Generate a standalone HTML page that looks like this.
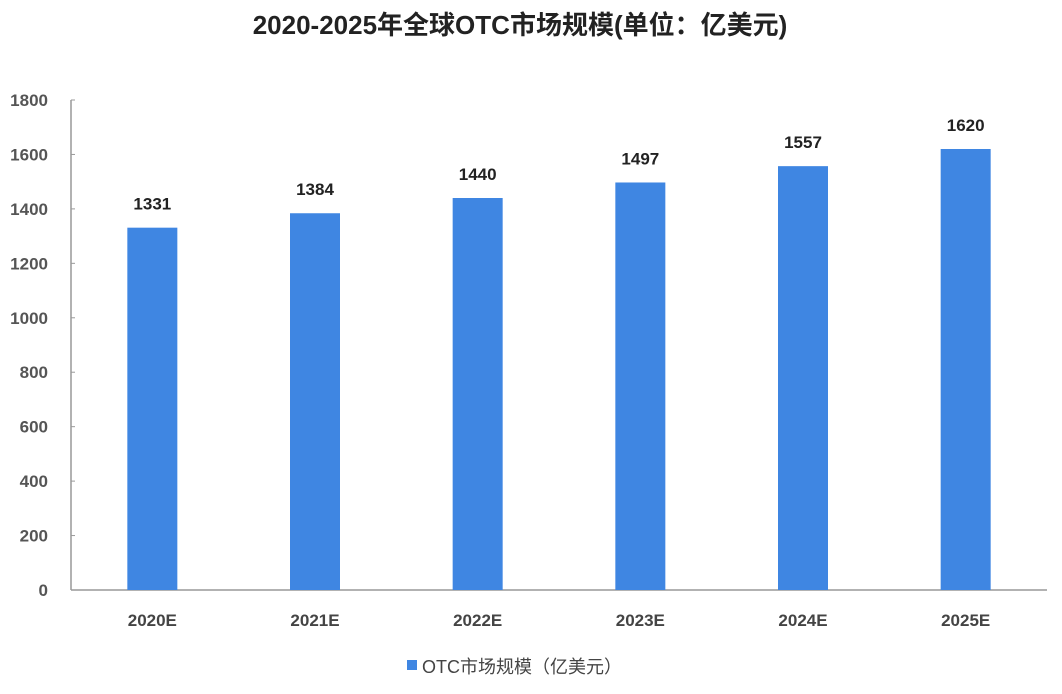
<!DOCTYPE html>
<html><head><meta charset="utf-8"><style>
body{margin:0;background:#fff;}
svg text{font-family:"Liberation Sans","Noto Sans CJK SC",sans-serif;}
</style></head><body>
<svg width="1062" height="689" xmlns="http://www.w3.org/2000/svg">
<text x="520" y="34" text-anchor="middle" font-size="26" font-weight="bold" fill="#222">2020-2025年全球OTC市场规模(单位：亿美元)</text>
<g id="axes"></g>
<g id="bars"></g>
<g>
<rect x="407" y="660" width="10" height="10" fill="#3f86e2"/>
<text x="422" y="673" font-size="18" fill="#444">OTC市场规模（亿美元）</text>
</g>
</svg>
<script>
const categories=["2020E","2021E","2022E","2023E","2024E","2025E"];
const values=[1331,1384,1440,1497,1557,1620];
const yTicks=[0,200,400,600,800,1000,1200,1400,1600,1800];
const NS="http://www.w3.org/2000/svg";
const x0=71,x1=1047,yB=590,yT=100,yMax=1800;
const y=v=>yB-(v/yMax)*(yB-yT);
const step=(x1-x0)/categories.length;
const cx=i=>x0+step*(i+0.5);
function mk(t,a,p){const e=document.createElementNS(NS,t);for(const k in a)e.setAttribute(k,a[k]);p.appendChild(e);return e;}
const ax=document.getElementById('axes'),bs=document.getElementById('bars');
let l=mk('line',{x1:x0,y1:yT,x2:x0,y2:yB,stroke:'#999','stroke-width':1.5},ax);


l=mk('line',{x1:x0,y1:yB,x2:x1,y2:yB,stroke:'#999','stroke-width':1.5},ax);


yTicks.forEach(v=>{
 const tk=mk('line',{x1:x0,y1:y(v),x2:x0+4,y2:y(v),stroke:'#999','stroke-width':1},ax);
 
 
 const t=mk('text',{x:48,y:y(v)+6,'text-anchor':'end','font-size':17,'font-weight':'bold',fill:'#555'},ax);
 t.textContent=v;
 
 
});
categories.forEach((c,i)=>{
 const r=mk('rect',{x:cx(i)-25,y:y(values[i]),width:50,height:yB-y(values[i]),fill:'#3f86e2'},bs);
 
 
 const t=mk('text',{x:cx(i),y:y(values[i])-18,'text-anchor':'middle','font-size':17,'font-weight':'bold',fill:'#222'},bs);
 t.textContent=values[i];
 
 
 const xl=mk('text',{x:cx(i),y:626,'text-anchor':'middle','font-size':17,'font-weight':'bold',fill:'#444'},bs);
 xl.textContent=c;
 
 
});
</script>
</body></html>
